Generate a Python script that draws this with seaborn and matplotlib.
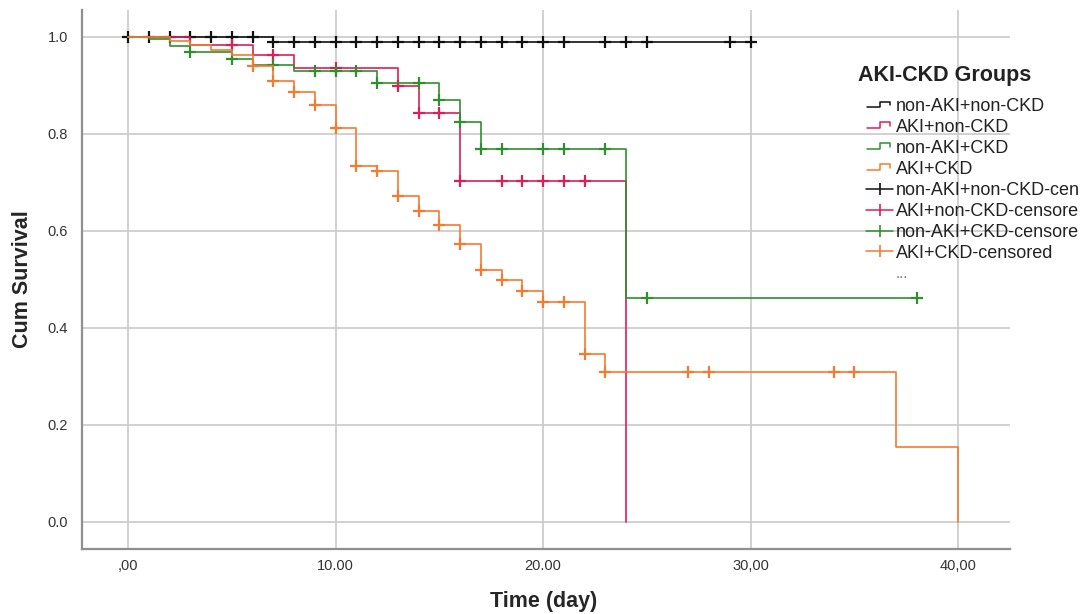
import numpy as np
import pandas as pd
import matplotlib
matplotlib.use('Agg')
import matplotlib.pyplot as plt
import seaborn as sns
from matplotlib.lines import Line2D
from matplotlib.legend_handler import HandlerBase

# Kaplan-Meier steps (time in days, cumulative survival)
groups = ['non-AKI+non-CKD', 'AKI+non-CKD', 'non-AKI+CKD', 'AKI+CKD']
cens_labels = ['non-AKI+non-CKD-cen', 'AKI+non-CKD-censore',
               'non-AKI+CKD-censore', 'AKI+CKD-censored']
colors = ['#111111', '#dc1f58', '#2f8f2f', '#f47a30']

black_t = [0, 7, 30]
black_s = [1.0, 0.99, 0.99]
black_ct = [0, 1, 2, 3, 4, 5, 6, 7, 8, 9, 10, 11, 12, 13, 14, 15, 16, 17,
            18, 19, 20, 21, 23, 24, 25, 29, 30]

red_t = [0, 3, 6, 8, 13, 14, 16, 24]
red_s = [1.0, 0.984, 0.962, 0.937, 0.898, 0.844, 0.703, 0.0]
red_ct = [5, 7, 10, 13, 14, 15, 16, 18, 19, 20, 21, 22]

green_t = [0, 1, 2, 3, 5, 6, 8, 12, 15, 16, 17, 24, 38]
green_s = [1.0, 0.995, 0.981, 0.968, 0.955, 0.942, 0.930, 0.905, 0.869,
           0.824, 0.768, 0.461, 0.461]
green_ct = [3, 5, 7, 9, 10, 11, 12, 14, 15, 16, 17, 18, 20, 21, 23, 25, 38]

orange_t = [0, 2, 3, 4, 5, 6, 7, 8, 9, 10, 11, 12, 13, 14, 15, 16, 17, 18,
            19, 20, 22, 23, 37, 40]
orange_s = [1.0, 0.992, 0.983, 0.974, 0.963, 0.940, 0.910, 0.887, 0.860,
            0.812, 0.734, 0.724, 0.672, 0.642, 0.612, 0.573, 0.520, 0.498,
            0.476, 0.454, 0.346, 0.310, 0.154, 0.0]
orange_ct = [6, 7, 8, 9, 10, 11, 12, 13, 14, 15, 16, 17, 18, 19, 20, 21, 22,
             23, 27, 28, 34, 35]

x_ticks = [0, 10, 20, 30, 40]
x_ticklabels = [',00', '10.00', '20.00', '30,00', '40,00']
y_ticks = [0.0, 0.2, 0.4, 0.6, 0.8, 1.0]
y_ticklabels = ['0.0', '0.2', '0.4', '0.6', '0.8', '1.0']

steps = [(black_t, black_s, black_ct), (red_t, red_s, red_ct),
         (green_t, green_s, green_ct), (orange_t, orange_s, orange_ct)]


class StepHandler(HandlerBase):
    def create_artists(self, legend, orig_handle, xdescent, ydescent,
                       width, height, fontsize, trans):
        xs = np.array([0.05, 0.5, 0.5, 0.9, 0.9]) * width - xdescent
        ys = np.array([0.3, 0.3, 0.75, 0.75, 0.5]) * height - ydescent
        ln = Line2D(xs, ys, color=orig_handle.get_color(), lw=1.1,
                    transform=trans)
        return [ln]


sns.set_style('white')
plt.rcParams['font.family'] = ['Liberation Sans', 'DejaVu Sans']

fig = plt.figure(figsize=(10.86, 6.14), dpi=100)
ax = fig.add_axes([0.0755, 0.1059, 0.8545, 0.8779])

for i, (t, s, ct) in enumerate(steps):
    line_df = pd.DataFrame({'time': t, 'surv': s})
    t_arr = np.array(t)
    s_arr = np.array(s)
    idx = np.searchsorted(t_arr, ct, side='right') - 1
    cens_df = pd.DataFrame({'time': ct, 'surv': s_arr[idx]})

    sns.lineplot(data=line_df, x='time', y='surv', ax=ax, color=colors[i],
                 drawstyle='steps-post', estimator=None, sort=False,
                 lw=1.2, zorder=3 + 2 * i)
    sns.scatterplot(data=cens_df, x='time', y='surv', ax=ax, color=colors[i],
                    marker='+', s=70, linewidth=1.6, zorder=4 + 2 * i)

ax.set_xlim(-2.22, 42.5)
ax.set_ylim(-0.0557, 1.0557)
ax.set_xticks(x_ticks)
ax.set_xticklabels(x_ticklabels)
ax.set_yticks(y_ticks)
ax.set_yticklabels(y_ticklabels)
ax.tick_params(axis='x', length=0, labelsize=10.5, colors='#333333', pad=7)
ax.tick_params(axis='y', length=0, labelsize=10.5, colors='#333333', pad=10)
ax.grid(True, color='#c9c9c9', lw=1.2)
ax.set_axisbelow(True)

for side in ['top', 'right']:
    ax.spines[side].set_visible(False)
for side in ['left', 'bottom']:
    ax.spines[side].set_color('#8f8f8f')
    ax.spines[side].set_linewidth(1.6)

ax.set_xlabel('Time (day)', fontsize=15.5, fontweight='bold')
ax.set_ylabel('Cum Survival', fontsize=15.5, fontweight='bold')
ax.xaxis.set_label_coords(0.497, -0.078)
ax.yaxis.set_label_coords(-0.053, 0.5)

# legend: title as its own text, entries below
fig.text(858 / 1086, 1 - 75 / 614, 'AKI-CKD Groups', fontsize=15.5,
         fontweight='bold', color='#222222', ha='left', va='center')

handles = []
labels = []
handler_map = {}
for g, c in zip(groups, colors):
    h = Line2D([], [], color=c)
    handler_map[h] = StepHandler()
    handles.append(h)
    labels.append(g)
for g, c in zip(cens_labels, colors):
    handles.append(Line2D([], [], color=c, lw=1.1, marker='|',
                          markersize=9, mew=1.2))
    labels.append(g)
handles.append(Line2D([], [], color='none'))
labels.append('...')

leg = ax.legend(handles, labels, handler_map=handler_map,
                fontsize=13, frameon=False, loc='upper left',
                bbox_to_anchor=(866 / 1086, 1 - 98 / 614),
                bbox_transform=fig.transFigure,
                borderpad=0, handlelength=1.5, handletextpad=0.15,
                labelspacing=0.22, borderaxespad=0)
leg.get_texts()[-1].set_color('#777777')
leg.get_texts()[-1].set_fontsize(11)
for txt in leg.get_texts()[:-1]:
    txt.set_color('#222222')

fig.savefig('out.png', dpi=100)
